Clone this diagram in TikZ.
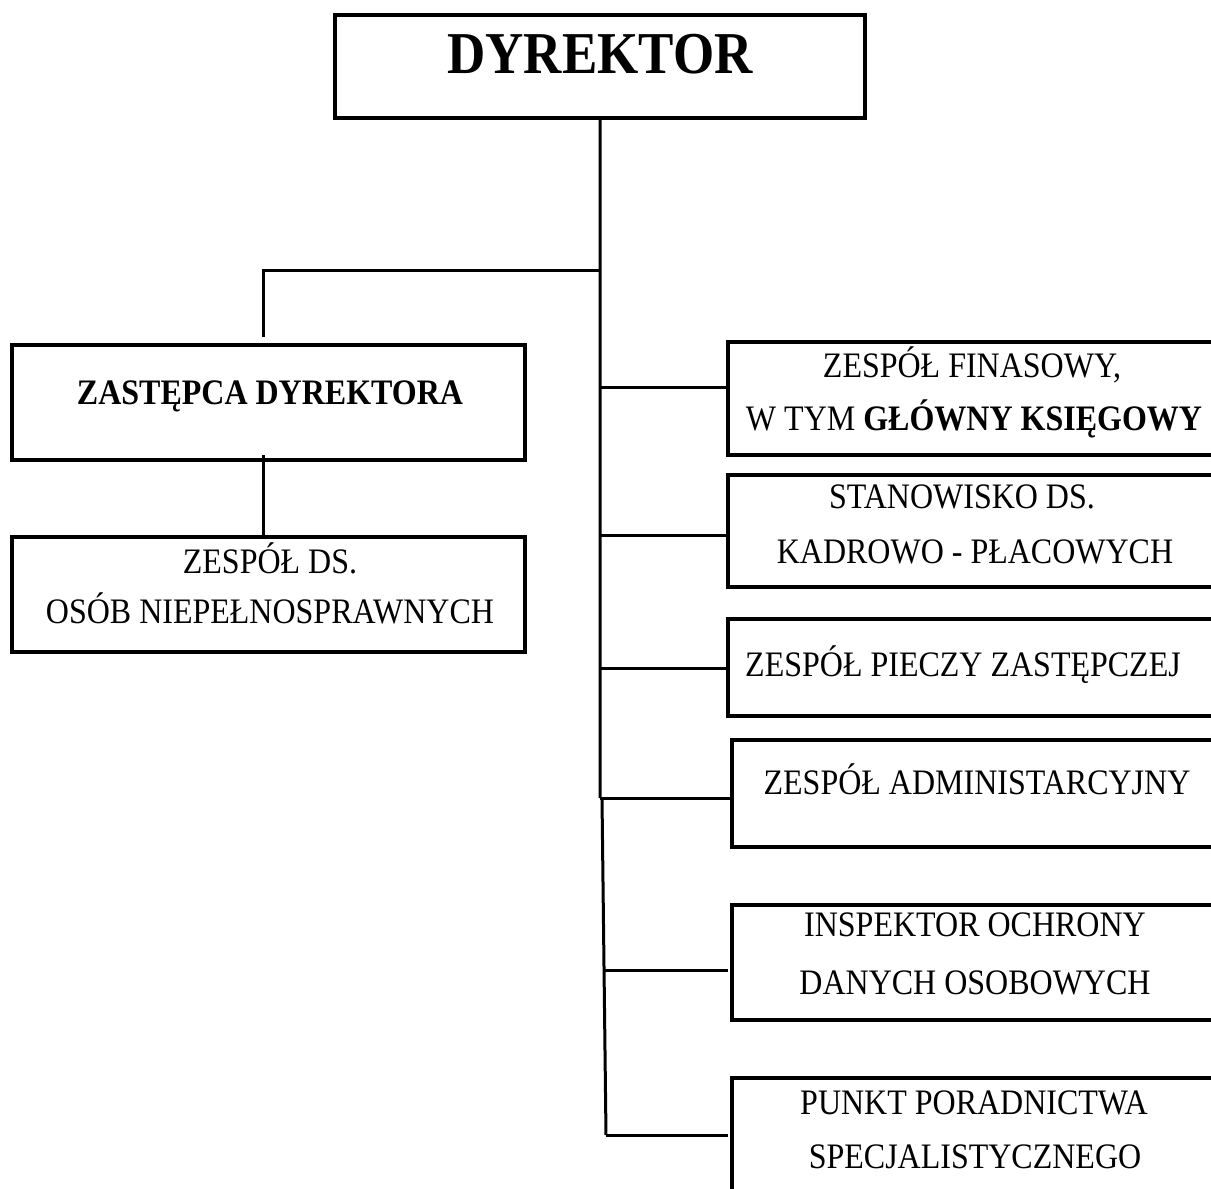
\documentclass[tikz,border=0pt]{standalone}
\usepackage{graphicx}
\usepackage{fontspec}
\setmainfont{Liberation Serif}
\newcommand{\vstr}[1]{\scalebox{1}[1.12]{#1}}
\begin{document}
\begin{tikzpicture}[x=1pt,y=-1pt,
  box/.style={draw,line width=4pt,rectangle,inner sep=0pt,outer sep=0pt},
  conn/.style={line width=3pt},
  lbl/.style={inner sep=0pt,outer sep=0pt,anchor=center,text height=23.7pt,text depth=0pt,font=\fontsize{32}{38}\selectfont},
  lblb/.style={lbl,font=\fontsize{32}{38}\selectfont\bfseries},
  big/.style={inner sep=0pt,outer sep=0pt,anchor=center,text height=39pt,text depth=0pt,font=\fontsize{53}{60}\selectfont\bfseries}]
\useasboundingbox (0,0) rectangle (1211,1189);
\clip (0,0) rectangle (1211,1189);
% boxes
\node[box,minimum width=530pt,minimum height=103pt] (dyr) at (600,66.5) {};
\node[box,minimum width=513pt,minimum height=115pt] (zast) at (268.5,402.5) {};
\node[box,minimum width=513pt,minimum height=115pt] (zon) at (268.5,594.5) {};
\node[box,minimum width=490pt,minimum height=113pt] (r1) at (973,398.5) {};
\node[box,minimum width=490pt,minimum height=112pt] (r2) at (973,531) {};
\node[box,minimum width=490pt,minimum height=97pt] (r3) at (973,667.5) {};
\node[box,minimum width=486pt,minimum height=107pt] (r4) at (975,793.5) {};
\node[box,minimum width=486pt,minimum height=115pt] (r5) at (975,962.5) {};
\node[box,minimum width=486pt,minimum height=122pt] (r6) at (975,1139) {};
% texts
\node[big] (tdyr) at (600,54) {\vstr{DYREKTOR}};
\node[lblb] (tzast) at (270,393) {\vstr{ZASTĘPCA DYREKTORA}};
\node[lbl] (tzon1) at (270,562) {\vstr{ZESPÓŁ DS.}};
\node[lbl] (tzon2) at (270,612) {\vstr{OSÓB NIEPEŁNOSPRAWNYCH}};
\node[lbl] (tr1a) at (972,366) {\vstr{ZESPÓŁ FINASOWY,}};
\node[lbl] (tr1b) at (974,419) {\vstr{W TYM \textbf{GŁÓWNY KSIĘGOWY}}};
\node[lbl] (tr2a) at (962,497) {\vstr{STANOWISKO DS.}};
\node[lbl] (tr2b) at (975,552) {\vstr{KADROWO - PŁACOWYCH}};
\node[lbl] (tr3) at (963,665) {\vstr{ZESPÓŁ PIECZY ZASTĘPCZEJ}};
\node[lbl] (tr4) at (977,783) {\vstr{ZESPÓŁ ADMINISTARCYJNY}};
\node[lbl] (tr5a) at (975,925) {\vstr{INSPEKTOR OCHRONY}};
\node[lbl] (tr5b) at (975,983) {\vstr{DANYCH OSOBOWYCH}};
\node[lbl] (tr6a) at (974,1103) {\vstr{PUNKT PORADNICTWA}};
\node[lbl] (tr6b) at (975,1157) {\vstr{SPECJALISTYCZNEGO}};
% trunk coordinates
\coordinate (tl) at (600,270);
\coordinate (lt) at (263,270);
\coordinate (le) at (263,337);
\coordinate (b1) at (600,387);
\coordinate (b2) at (600,535);
\coordinate (b3) at (600,668);
\coordinate (b4) at (600,798);
\coordinate (b4b) at (602,798);
\coordinate (b5) at (604,970);
\coordinate (b6) at (606,1135);
\coordinate (zb) at (263,455);
% connectors
\draw[conn] (dyr.south) -- (b4) (b4b) -- (b6);
\draw[conn] (tl) -- (lt) -- (le);
\draw[conn] (zb) -- (zb |- zon.north);
\draw[conn] (b1) -- (b1 -| r1.west);
\draw[conn] (b2) -- (b2 -| r2.west);
\draw[conn] (b3) -- (b3 -| r3.west);
\draw[conn] (b4) -- (b4 -| r4.west);
\draw[conn] (b5) -- ([xshift=-4pt]b5 -| r5.west);
\draw[conn] (b6) -- ([xshift=-4pt]b6 -| r6.west);
\end{tikzpicture}
\end{document}
